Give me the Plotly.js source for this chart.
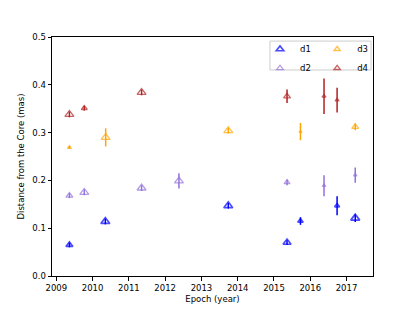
<!DOCTYPE html>
<html>
<head>
<meta charset="utf-8">
<script src="https://cdn.plot.ly/plotly-3.0.1.min.js"></script>
<style>html,body{margin:0;padding:0;background:#fff;}#chart{width:415px;height:311px;}</style>
</head>
<body>
<div id="chart"></div>
<script>
// Epochs (year), distances (mas), errors (mas), relative marker weight
var d1X = [2009.36, 2010.35, 2013.74, 2015.36, 2015.73, 2016.74, 2017.24];
var d1Y = [0.065, 0.114, 0.147, 0.070, 0.115, 0.147, 0.121];
var d1Err = [0.005, 0.006, 0.006, 0.005, 0.008, 0.020, 0.008];
var d1W = [7, 9, 9, 8, 5.5, 5, 9];

var d2X = [2009.36, 2009.77, 2011.35, 2012.38, 2015.36, 2016.38, 2017.24];
var d2Y = [0.168, 0.175, 0.184, 0.199, 0.196, 0.189, 0.211];
var d2Err = [0.005, 0.006, 0.006, 0.016, 0.006, 0.022, 0.016];
var d2W = [7, 9, 9, 9, 6, 3.5, 3.5];

var d3X = [2009.36, 2010.36, 2013.74, 2015.73, 2017.24];
var d3Y = [0.269, 0.290, 0.304, 0.302, 0.312];
var d3Err = [0.003, 0.019, 0.006, 0.018, 0.007];
var d3W = [4, 9, 9, 3, 7];

var d4X = [2009.36, 2009.77, 2011.35, 2015.36, 2016.38, 2016.74];
var d4Y = [0.338, 0.351, 0.384, 0.376, 0.376, 0.368];
var d4Err = [0.006, 0.005, 0.006, 0.014, 0.037, 0.026];
var d4W = [9, 6, 9, 7, 4, 4];

var seriesNames = ['d1', 'd2', 'd3', 'd4'];
var xTicks = [2009, 2010, 2011, 2012, 2013, 2014, 2015, 2016, 2017];
var yTicks = [0.0, 0.1, 0.2, 0.3, 0.4, 0.5];

var colors = ['#0000ff', '#9370db', '#ffa500', '#b22222'];
var legends = ['legend', 'legend', 'legend2', 'legend2'];
var allX = [d1X, d2X, d3X, d4X], allY = [d1Y, d2Y, d3Y, d4Y], allE = [d1Err, d2Err, d3Err, d4Err], allW = [d1W, d2W, d3W, d4W];

var traces = seriesNames.map(function (n, i) {
  return {
    type: 'scatter', mode: 'markers', name: n,
    x: allX[i], y: allY[i],
    legend: legends[i],
    error_y: {type: 'data', array: allE[i], visible: true, color: colors[i], thickness: 1.5, width: 0},
    marker: {
      symbol: 'triangle-up-open', color: colors[i],
      size: allW[i].map(function (w) { return w / 1.155; }),
      line: {color: colors[i], width: i === 0 ? 1.7 : 1.3}
    }
  };
});

var font = {family: 'DejaVu Sans', size: 8.5, color: '#000'};
var layout = {
  width: 415, height: 311,
  margin: {l: 52, r: 42, t: 37, b: 35},
  paper_bgcolor: '#fff', plot_bgcolor: '#fff',
  font: font,
  showlegend: true,
  xaxis: {
    range: [2008.88, 2017.73], tickvals: xTicks, ticktext: xTicks.map(String),
    showgrid: false, zeroline: false, ticks: 'outside', ticklen: 3.5, tickwidth: 1, tickcolor: '#000',
    showline: true, linecolor: '#000', linewidth: 1, mirror: true,
    title: {text: 'Epoch (year)', font: font, standoff: 4}
  },
  yaxis: {
    range: [0, 0.5], tickvals: yTicks, ticktext: yTicks.map(function (v) { return v.toFixed(1); }),
    showgrid: false, zeroline: false, ticks: 'outside', ticklen: 3.5, tickwidth: 1, tickcolor: '#000',
    showline: true, linecolor: '#000', linewidth: 1, mirror: true,
    title: {text: 'Distance from the Core (mas)', font: font, standoff: 6}
  },
  legend: {x: 0.648, xanchor: 'left', y: 1.01, yanchor: 'top', bgcolor: 'rgba(0,0,0,0)', borderwidth: 0, font: font, tracegroupgap: 0, itemwidth: 30},
  legend2: {x: 0.826, xanchor: 'left', y: 1.01, yanchor: 'top', bgcolor: 'rgba(0,0,0,0)', borderwidth: 0, font: font, tracegroupgap: 0, itemwidth: 30},
  shapes: [{type: 'rect', xref: 'paper', yref: 'paper', x0: 0.679, x1: 0.994, y0: 0.862, y1: 0.983, line: {color: '#cccccc', width: 1}}]
};

Plotly.newPlot('chart', traces, layout, {displayModeBar: false, staticPlot: true});
</script>
</body>
</html>
